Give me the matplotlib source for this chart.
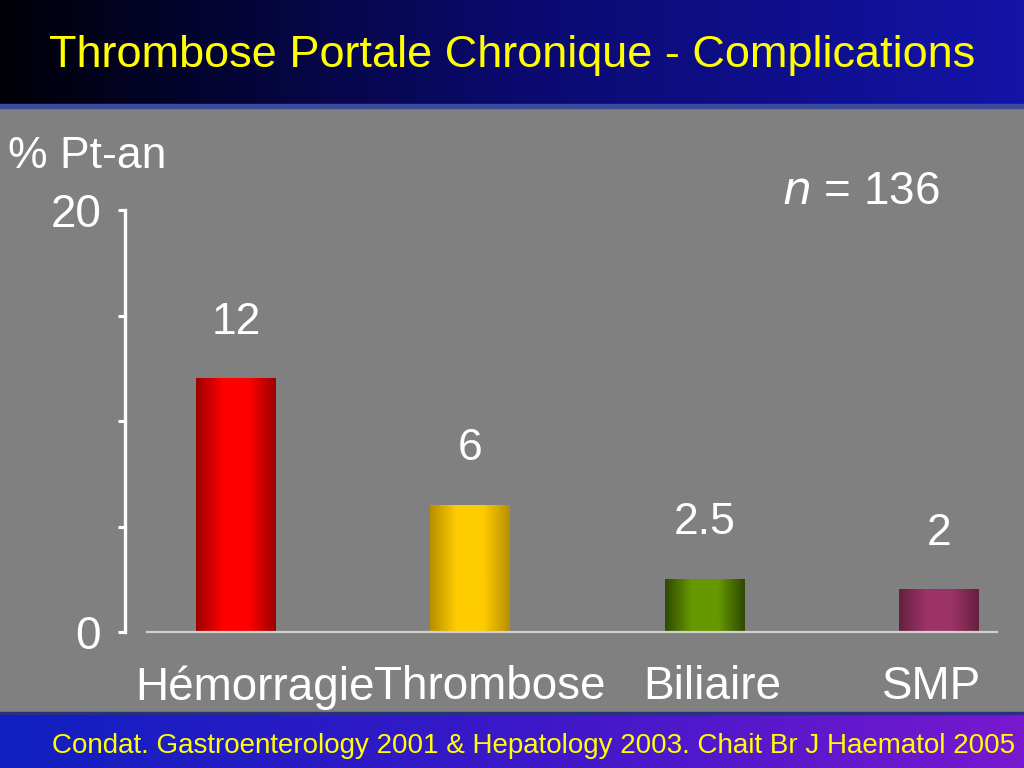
import matplotlib
matplotlib.use("Agg")
import matplotlib.pyplot as plt, numpy as np
from matplotlib.colors import LinearSegmentedColormap
from matplotlib.transforms import ScaledTranslation

# Data
categories = ["Hémorragie", "Thrombose", "Biliaire", "SMP"]
values = [12, 6, 2.5, 2]
value_labels = ["12", "6", "2.5", "2"]
# (edge, centre) colours for the cylinder-like bars
bar_shades = [("#9a0000", "#ff0000"), ("#b88e00", "#ffcc00"),
              ("#2f4800", "#669900"), ("#65203f", "#9b3366")]

title = "Thrombose Portale Chronique - Complications"
footer = "Condat. Gastroenterology 2001 & Hepatology 2003. Chait Br J Haematol 2005"

sans = ["Liberation Sans", "DejaVu Sans"]
narrow = ["Liberation Sans Narrow", "Liberation Sans", "DejaVu Sans"]

W, H = 1024, 768
fig = plt.figure(figsize=(W / 100, H / 100), dpi=100)
fig.patch.set_facecolor("#808080")

# Background: header and footer gradients
bg = fig.add_axes([0, 0, 1, 1], zorder=-10)
bg.set_xlim(0, 1)
bg.set_ylim(0, 1)
bg.axis("off")
ramp = np.linspace(0, 1, 256).reshape(1, -1)
head_cmap = LinearSegmentedColormap.from_list("head", ["#000008", "#0a0a6e", "#1414a8"])
foot_cmap = LinearSegmentedColormap.from_list("foot", ["#1020c0", "#3a18c8", "#7818d0"])
bg.imshow(ramp, cmap=head_cmap, aspect="auto", extent=[0, 1, 1 - 104 / H, 1])
bg.axhspan(1 - 108 / H, 1 - 104 / H, color="#3c4a9a")
bg.imshow(ramp, cmap=foot_cmap, aspect="auto", extent=[0, 1, 0, 54 / H])
bg.axhspan(54 / H, 56 / H, color="#283080")

fig.text(0.5, 1 - 56 / H, title, color="#ffff00", fontsize=32.5, family=narrow,
         ha="center", va="center")
fig.text(52 / W, 1 - 746 / H, footer, color="#ffff00", fontsize=20, family=narrow,
         ha="left", va="center")

# Main chart
ax = fig.add_axes([147 / W, 1 - 632 / H, 850 / W, 422 / H])
ax.set_facecolor("none")
x = np.arange(len(categories))
bars = ax.bar(x, values, width=0.34, color="none")
ax.set_xlim(-0.38, 3.248)
ax.set_ylim(0, 20)

for b, (edge, mid) in zip(bars, bar_shades):
    cmap = LinearSegmentedColormap.from_list("c", [edge, mid, mid, edge])
    x0, w, h = b.get_x(), b.get_width(), b.get_height()
    ax.imshow(ramp, cmap=cmap, aspect="auto", extent=[x0, x0 + w, 0, h], zorder=2)

for b, lab in zip(bars, value_labels):
    ax.annotate(lab, (b.get_x() + b.get_width() / 2, b.get_height()),
                xytext=(0, 26), textcoords="offset points", ha="center", va="bottom",
                color="white", fontsize=32, family=sans)

ax.tick_params(axis="x", length=0, pad=24)
ax.tick_params(axis="y", direction="out", length=5, width=2.2, color="white", pad=12)
for s in ["top", "right"]:
    ax.spines[s].set_visible(False)
ax.spines["left"].set_position(("outward", 16))
ax.spines["left"].set_color("white")
ax.spines["left"].set_linewidth(2.4)
ax.spines["bottom"].set_color("#d0d0d0")
ax.spines["bottom"].set_linewidth(1.6)

ax.set_xticks(x)
ax.set_xticklabels(categories, fontsize=33, color="white", family=sans)
# the slide's labels sit a little off the bar centres
for lab, dx in zip(ax.get_xticklabels(), [19, 19, 8, -7]):
    lab.set_transform(lab.get_transform() + ScaledTranslation(dx / 100, 0, fig.dpi_scale_trans))

ax.set_yticks([0, 5, 10, 15, 20])
ax.set_yticklabels(["0", "", "", "", "20"], fontsize=33, color="white", family=sans)

fig.text(8 / W, 1 - 157 / H, "% Pt-an", color="white", fontsize=32, family=sans,
         ha="left", va="center")
fig.text(940 / W, 1 - 192 / H, r"$\it{n}$ = 136", color="white", fontsize=33,
         family=sans, ha="right", va="center")

plt.savefig("out.png", dpi=100, facecolor=fig.get_facecolor())
